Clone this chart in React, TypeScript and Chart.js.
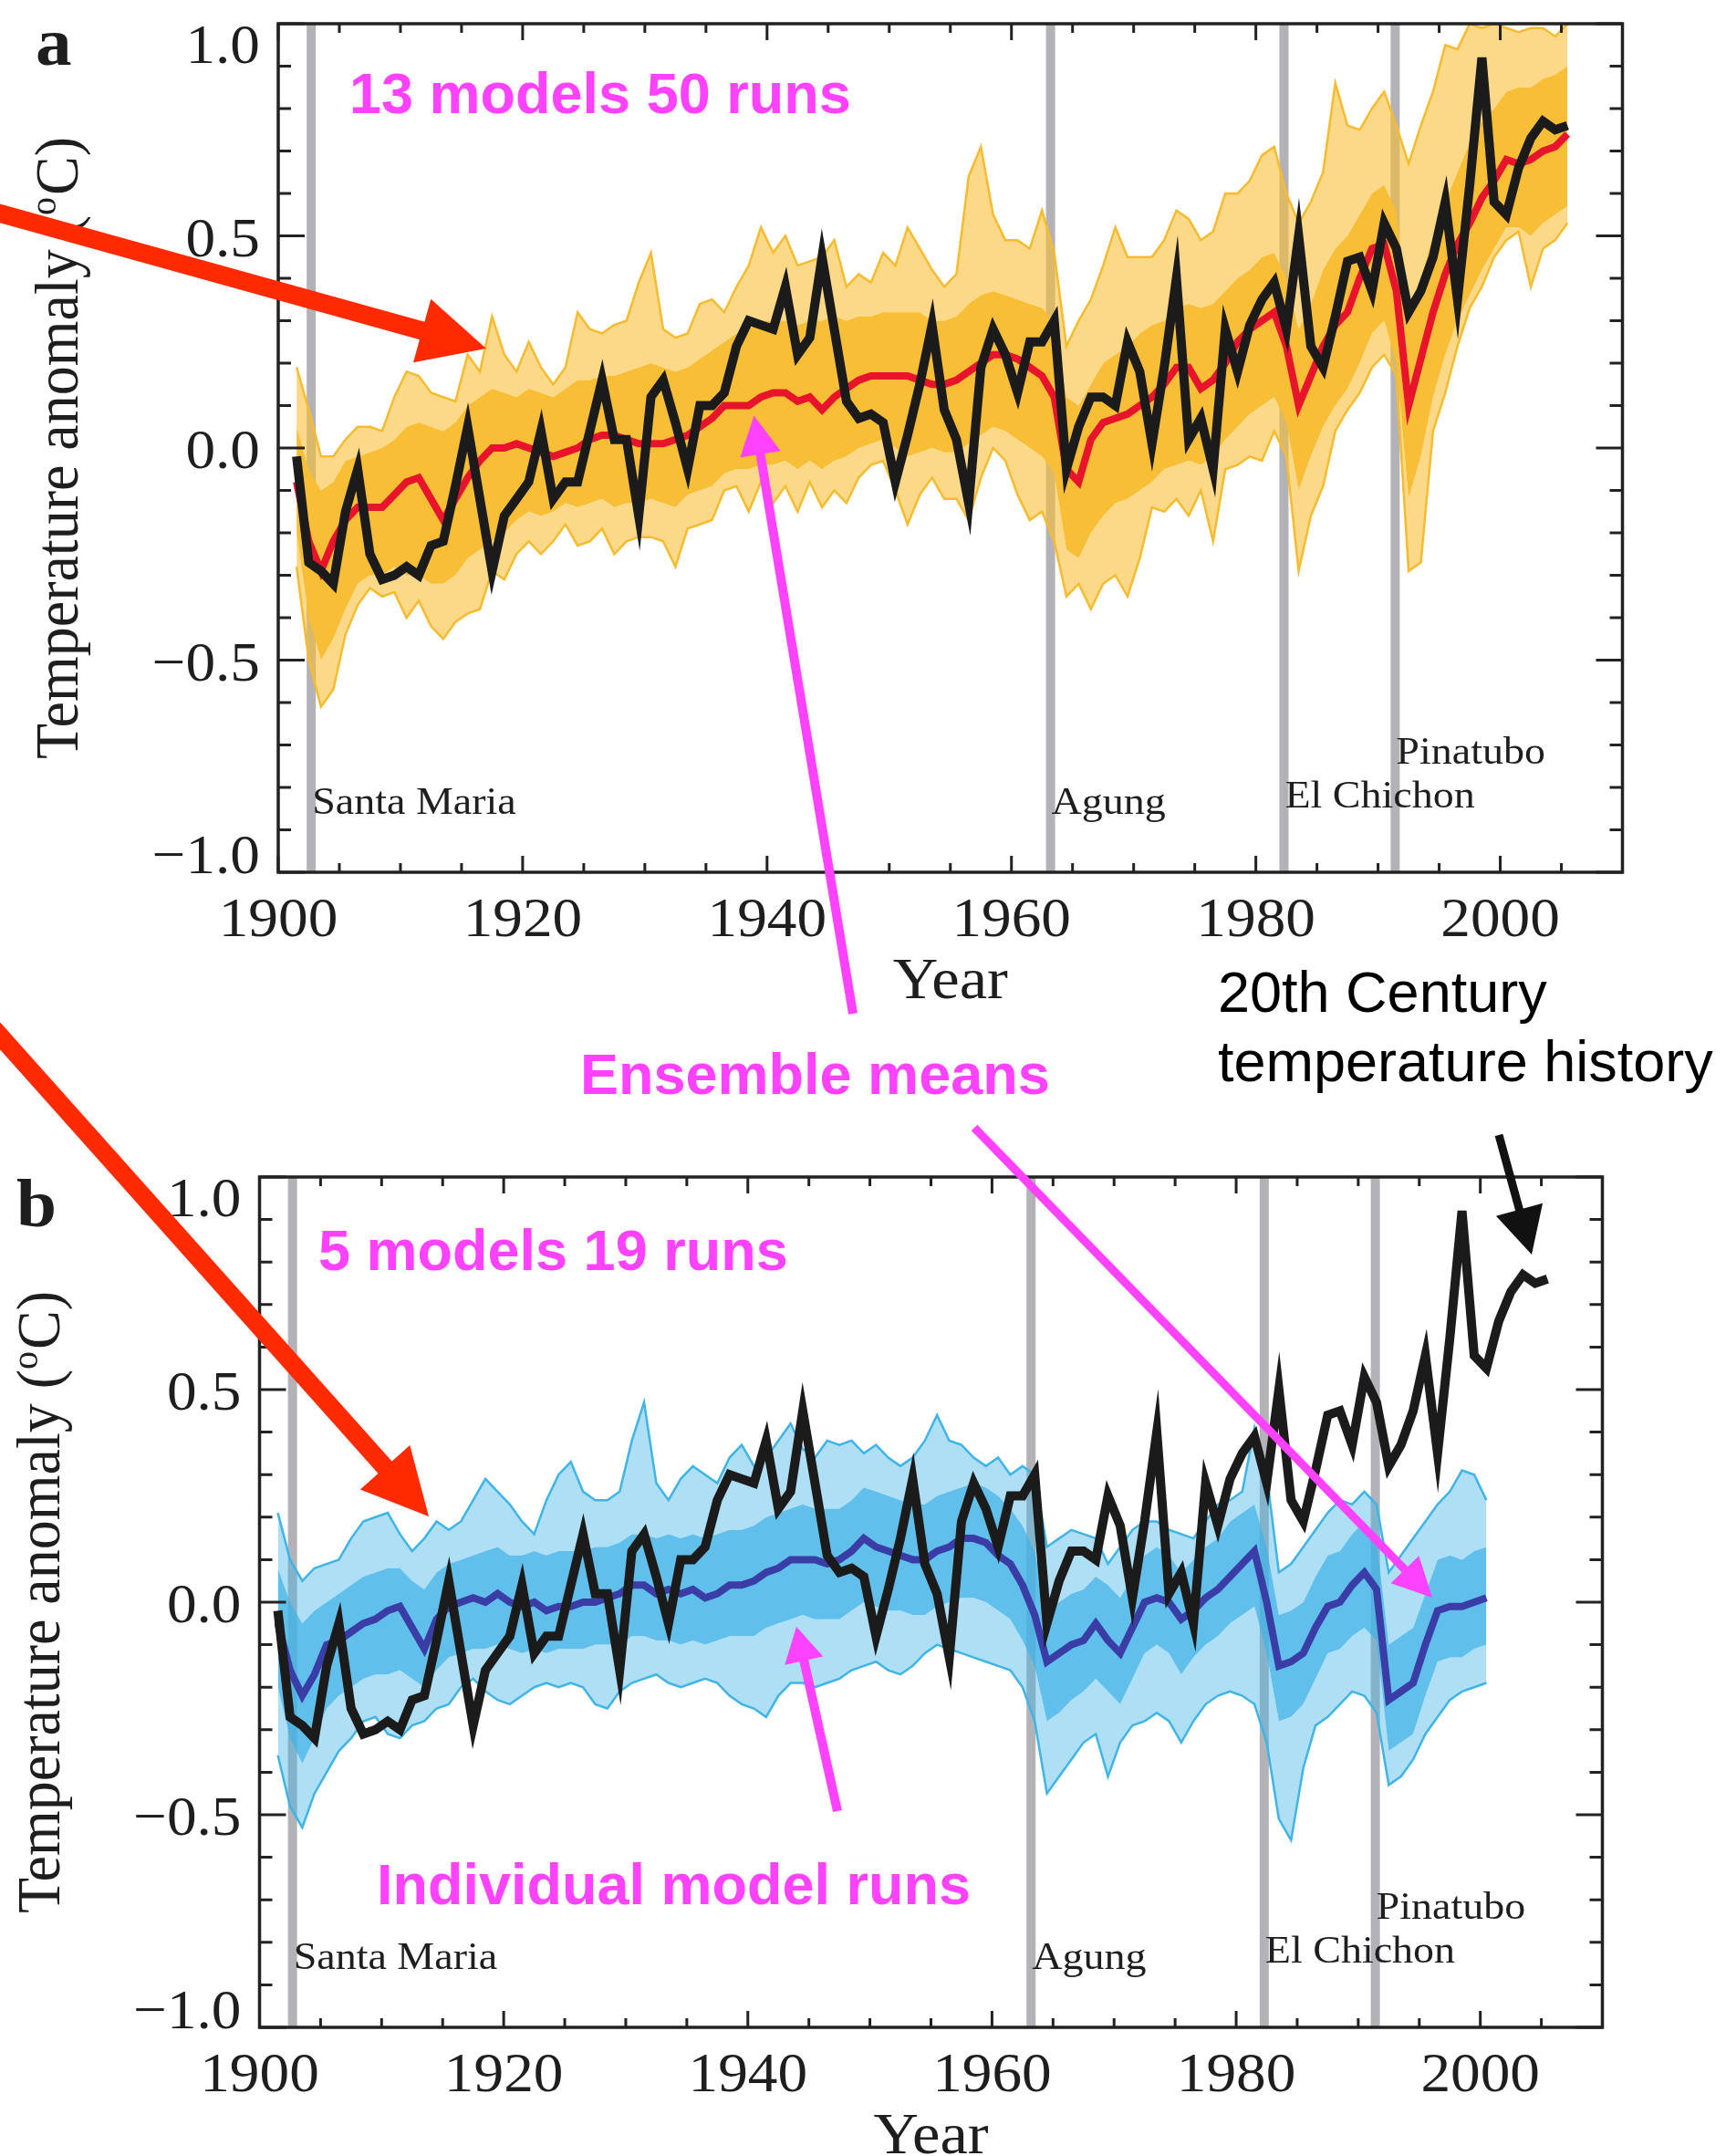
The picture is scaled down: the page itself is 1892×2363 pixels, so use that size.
import React, { useEffect, useRef } from 'react';
import { Chart, registerables } from 'chart.js';

Chart.register(...registerables);

// ---------------- data ----------------
const YEARS_A = [
  1901, 1902, 1903, 1904, 1905, 1906, 1907, 1908, 1909, 1910,
  1911, 1912, 1913, 1914, 1915, 1916, 1917, 1918, 1919, 1920,
  1921, 1922, 1923, 1924, 1925, 1926, 1927, 1928, 1929, 1930,
  1931, 1932, 1933, 1934, 1935, 1936, 1937, 1938, 1939, 1940,
  1941, 1942, 1943, 1944, 1945, 1946, 1947, 1948, 1949, 1950,
  1951, 1952, 1953, 1954, 1955, 1956, 1957, 1958, 1959, 1960,
  1961, 1962, 1963, 1964, 1965, 1966, 1967, 1968, 1969, 1970,
  1971, 1972, 1973, 1974, 1975, 1976, 1977, 1978, 1979, 1980,
  1981, 1982, 1983, 1984, 1985, 1986, 1987, 1988, 1989, 1990,
  1991, 1992, 1993, 1994, 1995, 1996, 1997, 1998, 1999, 2000,
  2001, 2002, 2003, 2004, 2005,
];

const YEARS_B = [
  1901, 1902, 1903, 1904, 1905, 1906, 1907, 1908, 1909, 1910,
  1911, 1912, 1913, 1914, 1915, 1916, 1917, 1918, 1919, 1920,
  1921, 1922, 1923, 1924, 1925, 1926, 1927, 1928, 1929, 1930,
  1931, 1932, 1933, 1934, 1935, 1936, 1937, 1938, 1939, 1940,
  1941, 1942, 1943, 1944, 1945, 1946, 1947, 1948, 1949, 1950,
  1951, 1952, 1953, 1954, 1955, 1956, 1957, 1958, 1959, 1960,
  1961, 1962, 1963, 1964, 1965, 1966, 1967, 1968, 1969, 1970,
  1971, 1972, 1973, 1974, 1975, 1976, 1977, 1978, 1979, 1980,
  1981, 1982, 1983, 1984, 1985, 1986, 1987, 1988, 1989, 1990,
  1991, 1992, 1993, 1994, 1995, 1996, 1997, 1998, 1999, 2000,
];

// observed 20th century temperature history (black)
const OBSERVED = [
  -0.02, -0.27, -0.29, -0.32, -0.15, -0.05, -0.25, -0.31, -0.30, -0.28,
  -0.30, -0.23, -0.22, -0.09, 0.05, -0.12, -0.29, -0.16, -0.12, -0.08,
  0.04, -0.12, -0.08, -0.08, 0.04, 0.16, 0.02, 0.02, -0.16, 0.12,
  0.16, 0.06, -0.05, 0.10, 0.10, 0.13, 0.24, 0.30, 0.29, 0.28,
  0.38, 0.22, 0.26, 0.45, 0.28, 0.11, 0.07, 0.08, 0.06, -0.08,
  0.03, 0.15, 0.29, 0.09, 0.02, -0.13, 0.19, 0.28, 0.22, 0.13,
  0.25, 0.25, 0.30, -0.05, 0.05, 0.12, 0.12, 0.10, 0.25, 0.18,
  0.01, 0.19, 0.40, 0.02, 0.07, -0.05, 0.28, 0.18, 0.29, 0.35,
  0.39, 0.28, 0.50, 0.24, 0.19, 0.31, 0.44, 0.45, 0.37, 0.53,
  0.47, 0.32, 0.37, 0.45, 0.58, 0.35, 0.62, 0.92, 0.58, 0.55,
  0.66, 0.73, 0.77, 0.75, 0.76,
];

// panel a: ensemble mean (red) of 13 models / 50 runs
const MEAN_A = [
  -0.08, -0.22, -0.29, -0.22, -0.17, -0.14, -0.14, -0.14, -0.11, -0.08,
  -0.07, -0.12, -0.17, -0.12, -0.07, -0.03, 0.00, 0.00, 0.01, 0.00,
  -0.01, -0.02, -0.01, 0.00, 0.02, 0.03, 0.03, 0.02, 0.01, 0.01,
  0.01, 0.02, 0.03, 0.05, 0.07, 0.10, 0.10, 0.10, 0.12, 0.13,
  0.13, 0.11, 0.12, 0.09, 0.12, 0.14, 0.16, 0.17, 0.17, 0.17,
  0.17, 0.16, 0.15, 0.15, 0.16, 0.18, 0.20, 0.22, 0.22, 0.21,
  0.19, 0.17, 0.12, -0.05, -0.08, 0.02, 0.06, 0.07, 0.08, 0.10,
  0.12, 0.15, 0.19, 0.19, 0.14, 0.16, 0.20, 0.25, 0.28, 0.30,
  0.32, 0.24, 0.10, 0.17, 0.24, 0.29, 0.32, 0.40, 0.47, 0.48,
  0.37, 0.10, 0.21, 0.32, 0.41, 0.48, 0.53, 0.59, 0.63, 0.68,
  0.67, 0.68, 0.70, 0.71, 0.74,
];

// panel a: highest and lowest individual runs (orange spikes)
const RUNS_A_MAX = [
  0.19, 0.09, -0.02, -0.02, 0.02, 0.05, 0.05, 0.04, 0.12, 0.18,
  0.17, 0.13, 0.12, 0.11, 0.22, 0.18, 0.31, 0.22, 0.18, 0.25,
  0.19, 0.15, 0.19, 0.32, 0.28, 0.27, 0.29, 0.30, 0.39, 0.46,
  0.28, 0.26, 0.27, 0.34, 0.35, 0.32, 0.38, 0.43, 0.52, 0.46,
  0.50, 0.43, 0.44, 0.45, 0.49, 0.38, 0.41, 0.39, 0.46, 0.43,
  0.52, 0.47, 0.42, 0.38, 0.41, 0.64, 0.71, 0.55, 0.49, 0.49,
  0.47, 0.56, 0.46, 0.24, 0.30, 0.35, 0.43, 0.52, 0.45, 0.45,
  0.45, 0.49, 0.56, 0.54, 0.49, 0.51, 0.60, 0.60, 0.63, 0.69,
  0.71, 0.60, 0.53, 0.58, 0.65, 0.86, 0.76, 0.75, 0.80, 0.84,
  0.76, 0.67, 0.76, 0.84, 0.95, 0.94, 1.00, 0.99, 1.00, 0.99,
  0.98, 0.99, 0.99, 0.97, 1.00,
];
const RUNS_A_MIN = [
  -0.28, -0.50, -0.61, -0.57, -0.44, -0.37, -0.33, -0.35, -0.34, -0.40,
  -0.36, -0.42, -0.45, -0.41, -0.39, -0.38, -0.29, -0.31, -0.25, -0.22,
  -0.25, -0.22, -0.18, -0.23, -0.22, -0.19, -0.25, -0.22, -0.21, -0.21,
  -0.22, -0.28, -0.19, -0.18, -0.17, -0.10, -0.09, -0.15, -0.08, -0.13,
  -0.09, -0.15, -0.08, -0.14, -0.10, -0.13, -0.07, -0.04, -0.03, -0.10,
  -0.18, -0.11, -0.07, -0.12, -0.12, -0.17, -0.07, 0.00, -0.03, -0.11,
  -0.17, -0.15, -0.22, -0.35, -0.32, -0.38, -0.32, -0.30, -0.35, -0.26,
  -0.14, -0.15, -0.12, -0.16, -0.10, -0.22, -0.05, -0.04, -0.02, -0.03,
  0.04, -0.02, -0.29, -0.16, -0.09, 0.04, 0.09, 0.13, 0.19, 0.22,
  0.17, -0.29, -0.27, 0.04, 0.13, 0.24, 0.33, 0.38, 0.45, 0.49,
  0.51, 0.38, 0.47, 0.49, 0.53,
];
// panel a: edges of the dense core of the run bundle
const RUNS_A_CORE_HI = [
  0.05, -0.05, -0.10, -0.08, -0.03, -0.02, -0.01, 0.00, 0.02, 0.05,
  0.06, 0.05, 0.04, 0.06, 0.10, 0.12, 0.14, 0.13, 0.12, 0.14,
  0.13, 0.12, 0.14, 0.16, 0.16, 0.17, 0.17, 0.18, 0.19, 0.20,
  0.19, 0.18, 0.19, 0.21, 0.23, 0.25, 0.27, 0.28, 0.30, 0.30,
  0.30, 0.29, 0.30, 0.30, 0.31, 0.30, 0.31, 0.31, 0.32, 0.32,
  0.32, 0.32, 0.30, 0.30, 0.31, 0.34, 0.36, 0.37, 0.36, 0.35,
  0.34, 0.33, 0.30, 0.12, 0.10, 0.15, 0.20, 0.22, 0.24, 0.27,
  0.29, 0.30, 0.33, 0.34, 0.33, 0.34, 0.37, 0.40, 0.42, 0.45,
  0.46, 0.40, 0.28, 0.34, 0.42, 0.47, 0.50, 0.55, 0.60, 0.62,
  0.56, 0.30, 0.40, 0.50, 0.58, 0.65, 0.72, 0.77, 0.80, 0.84,
  0.85, 0.85, 0.87, 0.88, 0.90,
];
const RUNS_A_CORE_LO = [
  -0.20, -0.40, -0.50, -0.45, -0.38, -0.32, -0.30, -0.30, -0.28, -0.30,
  -0.30, -0.32, -0.32, -0.30, -0.26, -0.24, -0.22, -0.20, -0.17, -0.15,
  -0.16, -0.15, -0.13, -0.14, -0.13, -0.12, -0.14, -0.13, -0.13, -0.12,
  -0.13, -0.14, -0.11, -0.10, -0.09, -0.06, -0.05, -0.05, -0.04, -0.04,
  -0.03, -0.05, -0.03, -0.05, -0.03, -0.02, 0.00, 0.01, 0.02, 0.00,
  -0.02, -0.01, 0.00, -0.01, -0.01, 0.01, 0.03, 0.05, 0.04, 0.02,
  0.00, -0.02, -0.06, -0.24, -0.26, -0.20, -0.16, -0.13, -0.12, -0.10,
  -0.08, -0.05, -0.04, -0.03, -0.04, -0.02, 0.02, 0.05, 0.08, 0.10,
  0.12, 0.06, -0.10, -0.02, 0.05, 0.10, 0.14, 0.20, 0.27, 0.30,
  0.20, -0.12, -0.02, 0.12, 0.22, 0.30, 0.36, 0.42, 0.47, 0.52,
  0.52, 0.50, 0.53, 0.55, 0.57,
];

// panel b: ensemble mean (dark blue) of 5 models / 19 runs
const MEAN_B = [
  -0.05, -0.16, -0.22, -0.17, -0.10, -0.09, -0.07, -0.05, -0.04, -0.02,
  -0.01, -0.06, -0.11, -0.04, -0.01, 0.00, 0.01, 0.00, 0.02, 0.00,
  -0.01, 0.00, -0.02, -0.01, -0.01, 0.00, 0.00, 0.01, 0.02, 0.04,
  0.04, 0.02, 0.03, 0.02, 0.03, 0.01, 0.02, 0.04, 0.04, 0.05,
  0.07, 0.08, 0.10, 0.10, 0.10, 0.09, 0.10, 0.12, 0.15, 0.13,
  0.12, 0.11, 0.10, 0.10, 0.12, 0.13, 0.15, 0.15, 0.14, 0.11,
  0.09, 0.04, -0.03, -0.14, -0.12, -0.10, -0.09, -0.05, -0.09, -0.12,
  -0.06, 0.00, 0.01, 0.00, -0.04, -0.02, 0.01, 0.03, 0.06, 0.09,
  0.12, 0.00, -0.15, -0.14, -0.12, -0.06, -0.01, 0.00, 0.04, 0.07,
  0.03, -0.23, -0.21, -0.19, -0.10, -0.02, -0.01, -0.01, 0.00, 0.01,
];
const RUNS_B_MAX = [
  0.21, 0.10, 0.05, 0.08, 0.09, 0.10, 0.15, 0.19, 0.20, 0.21,
  0.16, 0.12, 0.15, 0.19, 0.17, 0.19, 0.24, 0.29, 0.26, 0.23,
  0.19, 0.16, 0.24, 0.30, 0.33, 0.26, 0.24, 0.24, 0.26, 0.38,
  0.47, 0.28, 0.24, 0.29, 0.32, 0.30, 0.28, 0.34, 0.37, 0.32,
  0.34, 0.38, 0.42, 0.36, 0.34, 0.38, 0.37, 0.38, 0.35, 0.37,
  0.34, 0.32, 0.34, 0.38, 0.44, 0.38, 0.37, 0.34, 0.32, 0.34,
  0.30, 0.32, 0.30, 0.13, 0.15, 0.17, 0.16, 0.15, 0.09, 0.13,
  0.17, 0.19, 0.19, 0.17, 0.16, 0.15, 0.19, 0.23, 0.24, 0.26,
  0.41, 0.30, 0.07, 0.09, 0.13, 0.17, 0.21, 0.24, 0.23, 0.26,
  0.23, 0.07, 0.11, 0.15, 0.19, 0.23, 0.26, 0.31, 0.30, 0.24,
];
const RUNS_B_MIN = [
  -0.36, -0.48, -0.53, -0.45, -0.40, -0.35, -0.32, -0.28, -0.27, -0.31,
  -0.32, -0.29, -0.28, -0.25, -0.24, -0.20, -0.18, -0.21, -0.23, -0.24,
  -0.22, -0.20, -0.19, -0.20, -0.19, -0.20, -0.24, -0.25, -0.21, -0.19,
  -0.18, -0.17, -0.19, -0.20, -0.19, -0.18, -0.19, -0.22, -0.24, -0.25,
  -0.27, -0.22, -0.19, -0.19, -0.20, -0.19, -0.18, -0.16, -0.15, -0.14,
  -0.16, -0.17, -0.15, -0.12, -0.10, -0.11, -0.12, -0.13, -0.14, -0.15,
  -0.16, -0.20, -0.28, -0.45, -0.41, -0.37, -0.33, -0.31, -0.41, -0.33,
  -0.29, -0.28, -0.26, -0.28, -0.33, -0.28, -0.24, -0.22, -0.21, -0.22,
  -0.24, -0.33, -0.51, -0.56, -0.39, -0.29, -0.27, -0.24, -0.21, -0.22,
  -0.26, -0.43, -0.41, -0.37, -0.31, -0.27, -0.23, -0.21, -0.20, -0.19,
];
const RUNS_B_CORE_HI = [
  0.08, 0.00, -0.05, -0.02, 0.00, 0.02, 0.04, 0.06, 0.07, 0.08,
  0.08, 0.05, 0.03, 0.07, 0.09, 0.10, 0.11, 0.12, 0.13, 0.11,
  0.11, 0.12, 0.11, 0.12, 0.12, 0.12, 0.13, 0.13, 0.14, 0.16,
  0.16, 0.15, 0.16, 0.15, 0.16, 0.15, 0.16, 0.17, 0.17, 0.18,
  0.20, 0.21, 0.22, 0.23, 0.22, 0.22, 0.22, 0.24, 0.27, 0.26,
  0.25, 0.24, 0.23, 0.23, 0.25, 0.26, 0.27, 0.28, 0.27, 0.25,
  0.22, 0.18, 0.12, -0.01, 0.00, 0.02, 0.03, 0.06, 0.04, 0.01,
  0.06, 0.11, 0.13, 0.11, 0.07, 0.10, 0.13, 0.15, 0.19, 0.21,
  0.23, 0.13, -0.03, -0.02, 0.00, 0.06, 0.11, 0.12, 0.16, 0.19,
  0.15, -0.10, -0.08, -0.06, 0.02, 0.10, 0.11, 0.10, 0.12, 0.13,
];
const RUNS_B_CORE_LO = [
  -0.20, -0.32, -0.38, -0.32, -0.25, -0.22, -0.20, -0.18, -0.17, -0.17,
  -0.16, -0.18, -0.20, -0.16, -0.13, -0.12, -0.11, -0.11, -0.10, -0.11,
  -0.12, -0.11, -0.12, -0.11, -0.11, -0.11, -0.10, -0.10, -0.10, -0.08,
  -0.08, -0.09, -0.09, -0.10, -0.09, -0.10, -0.09, -0.08, -0.08, -0.08,
  -0.06, -0.05, -0.04, -0.03, -0.04, -0.04, -0.04, -0.02, 0.00, -0.01,
  -0.02, -0.02, -0.03, -0.03, -0.01, 0.00, 0.01, 0.01, 0.00, -0.02,
  -0.04, -0.09, -0.15, -0.28, -0.26, -0.23, -0.21, -0.18, -0.21, -0.24,
  -0.18, -0.12, -0.10, -0.12, -0.17, -0.13, -0.10, -0.08, -0.05, -0.03,
  -0.01, -0.12, -0.28, -0.27, -0.24, -0.18, -0.12, -0.11, -0.08, -0.06,
  -0.09, -0.35, -0.33, -0.31, -0.22, -0.14, -0.13, -0.13, -0.11, -0.10,
];

const Y_TICK_VALUES = [1.0, 0.5, 0.0, -0.5, -1.0];
const Y_TICK_LABELS = ['1.0', '0.5', '0.0', '\u22120.5', '\u22121.0'];
const X_TICK_VALUES = [1900, 1920, 1940, 1960, 1980, 2000];
const X_TICK_LABELS = ['1900', '1920', '1940', '1960', '1980', '2000'];

const VOLCANO_NAMES = ['Santa Maria', 'Agung', 'El Chichon', 'Pinatubo'];
const VOLCANO_YEARS = [1902.7, 1963.2, 1982.3, 1991.4];
const VOLCANO_LABEL_LEVELS = [-0.862, -0.862, -0.847, -0.745];

// ---------------- styling ----------------
const SERIF = '"Liberation Serif", "Times New Roman", serif';
const SANS = '"Liberation Sans", Arial, Helvetica, sans-serif';
const STRETCH = 1.07;
const W = 1892;
const H = 2363;
const MAGENTA = '#ff42ff';

type Panel = {
  top: number;
  height: number;
  left: number;
  right: number;
  plotTop: number;
  plotBottom: number;
  mean: number[];
  meanColor: string;
  bandYears: number[];
  hi: number[];
  lo: number[];
  coreHi: number[];
  coreLo: number[];
  runColor: string;
  coreFill: string;
  outerFill: string;
};

const PANEL_A: Panel = {
  top: 0,
  height: 1100,
  left: 305,
  right: 1778.5,
  plotTop: 26,
  plotBottom: 956,
  mean: MEAN_A,
  meanColor: '#e8142c',
  bandYears: YEARS_A,
  hi: RUNS_A_MAX,
  lo: RUNS_A_MIN,
  coreHi: RUNS_A_CORE_HI,
  coreLo: RUNS_A_CORE_LO,
  runColor: '#f6bb2e',
  coreFill: '#f8bf36',
  outerFill: 'rgba(248,190,50,0.58)',
};

const PANEL_B: Panel = {
  top: 1160,
  height: 1203,
  left: 284.5,
  right: 1756.5,
  plotTop: 1290,
  plotBottom: 2222,
  mean: MEAN_B,
  meanColor: '#3a3da6',
  bandYears: YEARS_B,
  hi: RUNS_B_MAX,
  lo: RUNS_B_MIN,
  coreHi: RUNS_B_CORE_HI,
  coreLo: RUNS_B_CORE_LO,
  runColor: '#3fb4e6',
  coreFill: 'rgba(62,178,230,0.82)',
  outerFill: 'rgba(62,178,230,0.42)',
};

function pts(years: number[], vals: number[]) {
  return vals.map((v, i) => ({ x: years[i] + 0.5, y: v }));
}

function stretchedText(
  ctx: CanvasRenderingContext2D,
  text: string,
  x: number,
  y: number,
  font: string,
  align: CanvasTextAlign,
  sx: number,
  color = '#1e1e1e'
) {
  ctx.save();
  ctx.font = font;
  ctx.fillStyle = color;
  ctx.textAlign = align;
  ctx.textBaseline = 'alphabetic';
  ctx.translate(x, y);
  ctx.scale(sx, 1);
  ctx.fillText(text, 0, 0);
  ctx.restore();
}

function decorPlugin() {
  return {
    id: 'decor',
    beforeDatasetsDraw(chart: any) {
      const { ctx, chartArea: a, scales } = chart;
      ctx.save();
      ctx.fillStyle = '#b3b3b7';
      VOLCANO_YEARS.forEach((v) => {
        const px = scales.x.getPixelForValue(v);
        ctx.fillRect(px - 5, a.top, 10, a.bottom - a.top);
      });
      ctx.restore();
    },
    afterDatasetsDraw(chart: any) {
      const { ctx, chartArea: a, scales } = chart;
      ctx.save();
      ctx.strokeStyle = '#222';
      ctx.lineWidth = 3;
      ctx.lineCap = 'butt';
      for (let i = -10; i <= 10; i++) {
        const py = scales.y.getPixelForValue(i / 10);
        const len = i % 5 === 0 ? 29 : 14;
        ctx.beginPath();
        ctx.moveTo(a.left, py);
        ctx.lineTo(a.left + len, py);
        ctx.moveTo(a.right, py);
        ctx.lineTo(a.right - len, py);
        ctx.stroke();
      }
      for (let yr = 1900; yr <= 2010; yr += 5) {
        const px = scales.x.getPixelForValue(yr);
        const len = yr % 20 === 0 ? 18 : 10;
        ctx.beginPath();
        ctx.moveTo(px, a.bottom);
        ctx.lineTo(px, a.bottom - len);
        ctx.moveTo(px, a.top);
        ctx.lineTo(px, a.top + len);
        ctx.stroke();
      }
      ctx.lineWidth = 3.5;
      ctx.strokeRect(a.left, a.top, a.right - a.left, a.bottom - a.top);
      ctx.restore();
    },
    afterDraw(chart: any) {
      const { ctx, chartArea: a, scales } = chart;
      const tickFont = `61px ${SERIF}`;
      // y tick labels
      Y_TICK_VALUES.forEach((v, i) => {
        const py = scales.y.getPixelForValue(v);
        let base = py + 22;
        if (v === 1) base = a.top + 43;
        if (v === -1) base = a.bottom + 1;
        stretchedText(ctx, Y_TICK_LABELS[i], a.left - 20, base, tickFont, 'right', STRETCH);
      });
      // x tick labels
      X_TICK_VALUES.forEach((v, i) => {
        const px = scales.x.getPixelForValue(v);
        stretchedText(ctx, X_TICK_LABELS[i], px, a.bottom + 70, tickFont, 'center', STRETCH);
      });
      // x title
      stretchedText(ctx, 'Year', (a.left + a.right) / 2, a.bottom + 138, `64px ${SERIF}`, 'center', STRETCH);
      // volcano labels
      VOLCANO_NAMES.forEach((name, i) => {
        const px = scales.x.getPixelForValue(VOLCANO_YEARS[i]) + 1;
        const py = scales.y.getPixelForValue(VOLCANO_LABEL_LEVELS[i]);
        stretchedText(ctx, name, px, py, `43px ${SERIF}`, 'left', STRETCH);
      });
      // y title (rotated)
      ctx.save();
      ctx.translate(a.left - 220, (a.top + a.bottom) / 2);
      ctx.rotate(-Math.PI / 2);
      ctx.scale(1, STRETCH);
      ctx.fillStyle = '#1e1e1e';
      ctx.textBaseline = 'alphabetic';
      ctx.textAlign = 'left';
      const big = `64px ${SERIF}`;
      const small = `40px ${SERIF}`;
      ctx.font = big;
      const w1 = ctx.measureText('Temperature anomaly (').width;
      const w3 = ctx.measureText('C)').width;
      ctx.font = small;
      const w2 = ctx.measureText('o').width + 2;
      const x0 = -(w1 + w2 + w3) / 2;
      ctx.font = big;
      ctx.fillText('Temperature anomaly (', x0, 0);
      ctx.font = small;
      ctx.fillText('o', x0 + w1, -22);
      ctx.font = big;
      ctx.fillText('C)', x0 + w1 + w2, 0);
      ctx.restore();
    },
  };
}

function buildChart(canvas: HTMLCanvasElement, p: Panel) {
  const line = (data: any, color: string, width: number, order: number, fill: any = false) => ({
    data,
    borderColor: color,
    borderWidth: width,
    pointRadius: 0,
    tension: 0,
    fill,
    order,
    clip: 0,
    borderJoinStyle: 'miter' as const,
  });
  const datasets = [
    line(pts(YEARS_A, OBSERVED), '#1b1b1b', 10, 0),
    line(pts(p.bandYears, p.mean), p.meanColor, 8, 1),
    line(pts(p.bandYears, p.hi), p.runColor, 2.5, 2, { target: 4, above: p.outerFill, below: p.outerFill }),
    line(pts(p.bandYears, p.lo), p.runColor, 2.5, 2, { target: 5, above: p.outerFill, below: p.outerFill }),
    line(pts(p.bandYears, p.coreHi), 'rgba(0,0,0,0)', 1, 3, { target: 5, above: p.coreFill, below: p.coreFill }),
    line(pts(p.bandYears, p.coreLo), 'rgba(0,0,0,0)', 1, 4),
  ];
  return new Chart(canvas, {
    type: 'line',
    data: { datasets },
    options: {
      animation: false,
      responsive: false,
      devicePixelRatio: 1,
      events: [],
      layout: {
        padding: {
          left: p.left,
          right: W - p.right,
          top: p.plotTop - p.top,
          bottom: p.top + p.height - p.plotBottom,
        },
      },
      plugins: {
        legend: { display: false },
        tooltip: { enabled: false },
        filler: { propagate: false },
      },
      scales: {
        x: { type: 'linear', min: 1900, max: 2010, display: false },
        y: { type: 'linear', min: -1, max: 1, display: false },
      },
    } as any,
    plugins: [decorPlugin()],
  });
}

function drawArrow(
  ctx: CanvasRenderingContext2D,
  tail: number[],
  tip: number[],
  headLen: number,
  headW: number,
  shaftW: number,
  color: string
) {
  const dx = tip[0] - tail[0];
  const dy = tip[1] - tail[1];
  const L = Math.hypot(dx, dy);
  const ux = dx / L;
  const uy = dy / L;
  const bx = tip[0] - ux * headLen;
  const by = tip[1] - uy * headLen;
  ctx.save();
  ctx.strokeStyle = color;
  ctx.fillStyle = color;
  ctx.lineWidth = shaftW;
  ctx.lineCap = 'butt';
  ctx.beginPath();
  ctx.moveTo(tail[0], tail[1]);
  ctx.lineTo(bx + ux * 3, by + uy * 3);
  ctx.stroke();
  ctx.beginPath();
  ctx.moveTo(tip[0], tip[1]);
  ctx.lineTo(bx - (uy * headW) / 2, by + (ux * headW) / 2);
  ctx.lineTo(bx + (uy * headW) / 2, by - (ux * headW) / 2);
  ctx.closePath();
  ctx.fill();
  ctx.restore();
}

function drawOverlay(ctx: CanvasRenderingContext2D) {
  ctx.clearRect(0, 0, W, H);
  // panel letters
  stretchedText(ctx, 'a', 39, 71, `bold 74px ${SERIF}`, 'left', STRETCH);
  stretchedText(ctx, 'b', 18, 1344, `bold 74px ${SERIF}`, 'left', STRETCH);
  // magenta annotations
  const mag = `bold 63px ${SANS}`;
  stretchedText(ctx, '13 models 50 runs', 383, 124, mag, 'left', 1, MAGENTA);
  stretchedText(ctx, '5 models 19 runs', 349, 1392, mag, 'left', 1, MAGENTA);
  stretchedText(ctx, 'Ensemble means', 636, 1199, mag, 'left', 1, MAGENTA);
  stretchedText(ctx, 'Individual model runs', 413, 2087, mag, 'left', 1, MAGENTA);
  // black annotation
  const reg = `63px ${SANS}`;
  stretchedText(ctx, '20th Century', 1335, 1109, reg, 'left', 1, '#000');
  stretchedText(ctx, 'temperature history', 1335, 1185, reg, 'left', 1, '#000');
  // arrows
  const RED = '#ff2a00';
  drawArrow(ctx, [-10, 231], [533, 382], 73, 72, 20, RED);
  drawArrow(ctx, [-10, 1124], [470, 1662], 72, 73, 20, RED);
  drawArrow(ctx, [935, 1111], [826.5, 455.5], 43, 45, 10, MAGENTA);
  drawArrow(ctx, [1068, 1236], [1570, 1751], 43, 43, 9, MAGENTA);
  drawArrow(ctx, [918, 1985], [873, 1783], 38, 43, 10, MAGENTA);
  drawArrow(ctx, [1643, 1244], [1679, 1375], 51, 53, 9, '#111');
}

export default function App() {
  const refA = useRef<HTMLCanvasElement>(null);
  const refB = useRef<HTMLCanvasElement>(null);
  const refO = useRef<HTMLCanvasElement>(null);

  useEffect(() => {
    document.body.style.margin = '0';
    const ca = buildChart(refA.current!, PANEL_A);
    const cb = buildChart(refB.current!, PANEL_B);
    const octx = refO.current!.getContext('2d')!;
    drawOverlay(octx);
    return () => {
      ca.destroy();
      cb.destroy();
    };
  }, []);

  const canvasStyle = (top: number, height: number): React.CSSProperties => ({
    position: 'absolute',
    left: 0,
    top,
    width: W,
    height,
    display: 'block',
  });

  return (
    <div style={{ position: 'absolute', left: 0, top: 0, width: W, height: H, background: '#fff', overflow: 'hidden' }}>
      <canvas ref={refA} width={W} height={PANEL_A.height} style={canvasStyle(PANEL_A.top, PANEL_A.height)} />
      <canvas ref={refB} width={W} height={PANEL_B.height} style={canvasStyle(PANEL_B.top, PANEL_B.height)} />
      <canvas ref={refO} width={W} height={H} style={{ ...canvasStyle(0, H), pointerEvents: 'none' }} />
    </div>
  );
}
